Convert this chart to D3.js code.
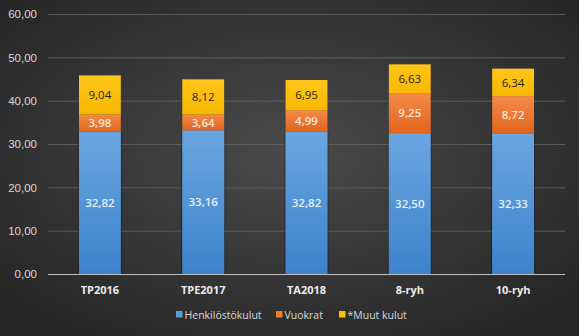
<!DOCTYPE html>
<html><head><meta charset="utf-8">
<script src="https://cdn.jsdelivr.net/npm/d3@7"></script>
<style>
html,body{margin:0;padding:0;background:#333;}
svg{display:block;font-family:"Open Sans","Liberation Sans",sans-serif;}
</style></head>
<body>
<svg id="c" width="579" height="336"></svg>
<script>
const categories = ["TP2016", "TPE2017", "TA2018", "8-ryh", "10-ryh"];
const henkilosto = [32.82, 33.16, 32.82, 32.50, 32.33];
const vuokrat = [3.98, 3.64, 4.99, 9.25, 8.72];
const muut = [9.04, 8.12, 6.95, 6.63, 6.34];
const seriesNames = ["Henkilöstökulut", "Vuokrat", "*Muut kulut"];
const yTicks = [0, 10, 20, 30, 40, 50, 60];

const W = 579, H = 336;
const svg = d3.select("#c");
const defs = svg.append("defs");

const bg = defs.append("radialGradient").attr("id", "bg").attr("cx", "50%").attr("cy", "45%").attr("r", "65%");
bg.append("stop").attr("offset", "0%").attr("stop-color", "#4a4a4a");
bg.append("stop").attr("offset", "100%").attr("stop-color", "#262626");
svg.append("rect").attr("width", W).attr("height", H).attr("fill", "url(#bg)");

function vgrad(id, top, bottom) {
  const g = defs.append("linearGradient").attr("id", id).attr("x1", 0).attr("y1", 0).attr("x2", 0).attr("y2", 1);
  g.append("stop").attr("offset", "0%").attr("stop-color", top);
  g.append("stop").attr("offset", "100%").attr("stop-color", bottom);
}
vgrad("gBlue", "#6aa6e0", "#3d83cc");
vgrad("gOrange", "#f48a48", "#e2651c");
vgrad("gYellow", "#ffc519", "#f7b800");
const fills = ["url(#gBlue)", "url(#gOrange)", "url(#gYellow)"];
const swatch = ["#5b9bd5", "#ed7d31", "#ffc000"];
const labelColor = ["#e8eef7", "#f6e6da", "#262626"];

const x = d3.scaleBand().domain(categories).range([48, 565]).paddingInner(0.595).paddingOuter(0.3);
const y = d3.scaleLinear().domain([0, 60]).range([274, 14]);

// gridlines
svg.append("g").selectAll("line").data(yTicks.slice(1)).join("line")
  .attr("x1", 48).attr("x2", 565)
  .attr("y1", d => y(d) + 0.5).attr("y2", d => y(d) + 0.5)
  .attr("stroke", "#5c5c5c").attr("stroke-width", 1);

// y axis labels
const yAxis = d3.axisLeft(y).tickValues(yTicks).tickSize(0).tickPadding(0)
  .tickFormat(d => d3.format(".2f")(d).replace(".", ","));
const ya = svg.append("g").attr("transform", "translate(37,0)").call(yAxis);
ya.select(".domain").remove();
ya.selectAll("text").attr("fill", "#d9d9d9").attr("font-size", 11.5);

const rows = categories.map((c, i) => ({ cat: c, vals: [henkilosto[i], vuokrat[i], muut[i]] }));
const stack = d3.stack().keys([0, 1, 2]).value((d, k) => d.vals[k]);
const layers = stack(rows);

// bar shadow
const sh = defs.append("filter").attr("id", "sh").attr("x", "-20%").attr("y", "-20%").attr("width", "140%").attr("height", "140%");
sh.append("feGaussianBlur").attr("in", "SourceAlpha").attr("stdDeviation", 1.2);
sh.append("feComponentTransfer").append("feFuncA").attr("type", "linear").attr("slope", 0.8);
const fm = sh.append("feMerge");
fm.append("feMergeNode");
fm.append("feMergeNode").attr("in", "SourceGraphic");

const bars = svg.append("g");
layers.forEach((layer, k) => {
  bars.append("g").selectAll("rect").data(layer).join("rect")
    .attr("x", d => x(d.data.cat))
    .attr("width", x.bandwidth())
    .attr("y", d => y(d[1]))
    .attr("height", d => y(d[0]) - y(d[1]))
    .attr("fill", fills[k])
    .attr("filter", k === 0 ? "url(#sh)" : null);
});

// axis line
svg.append("line").attr("x1", 48).attr("x2", 565).attr("y1", y(0) + 0.5).attr("y2", y(0) + 0.5)
  .attr("stroke", "#bfbfbf").attr("stroke-width", 1.2);

// value labels
const labels = svg.append("g");
layers.forEach((layer, k) => {
  labels.append("g").selectAll("text").data(layer).join("text")
    .attr("x", d => x(d.data.cat) + x.bandwidth() / 2)
    .attr("y", d => (y(d[0]) + y(d[1])) / 2)
    .attr("dy", "0.36em")
    .attr("text-anchor", "middle")
    .attr("font-size", 11.5)
    .attr("font-weight", k === 2 ? "normal" : "600")
    .attr("fill", labelColor[k])
    .text(d => d3.format(".2f")(d.data.vals[k]).replace(".", ","));
});

// category labels
svg.append("g").selectAll("text").data(categories).join("text")
  .attr("x", d => x(d) + x.bandwidth() / 2)
  .attr("y", 294)
  .attr("text-anchor", "middle")
  .attr("font-size", 11).attr("font-weight", "bold")
  .attr("fill", "#ececec")
  .text(d => d);

// legend
const legX = [176, 276, 339];
const lg = svg.append("g");
seriesNames.forEach((n, i) => {
  lg.append("rect").attr("x", legX[i]).attr("y", 311).attr("width", 6.5).attr("height", 6.5).attr("fill", swatch[i]);
  lg.append("text").attr("x", legX[i] + 8.5).attr("y", 318.5).attr("font-size", 10.5).attr("fill", "#d9d9d9").text(n);
});
</script>
</body></html>
